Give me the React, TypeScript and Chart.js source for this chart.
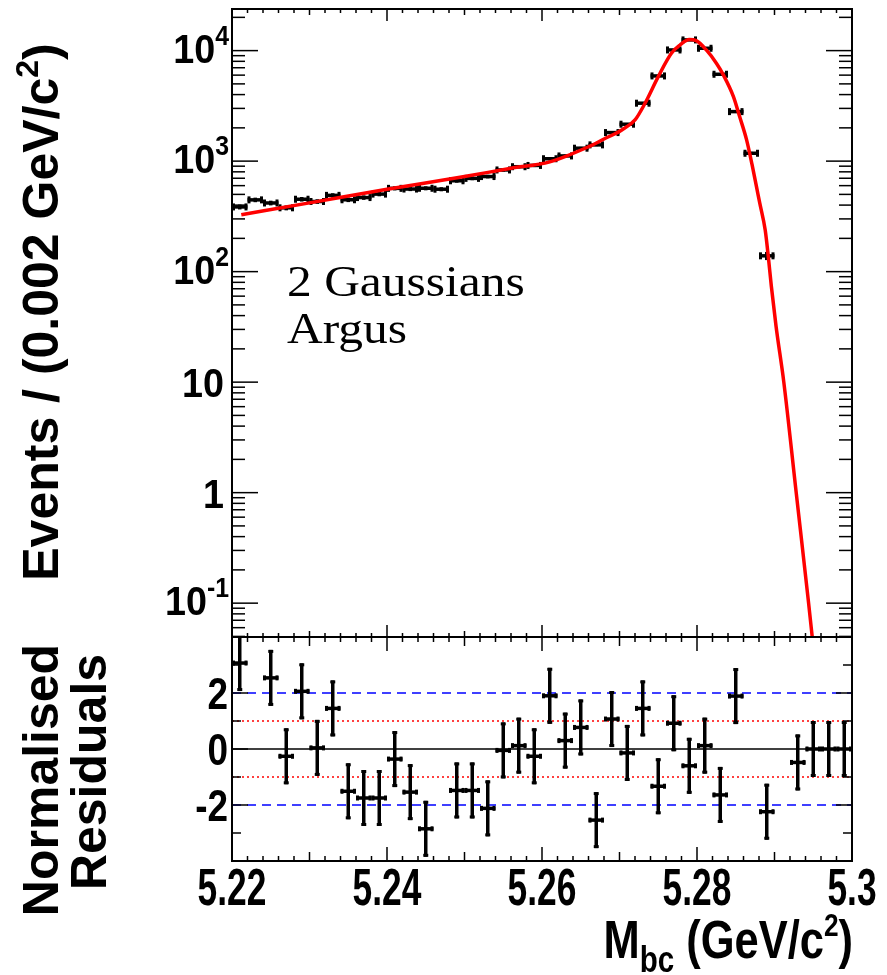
import React, { useEffect, useRef } from "react";
import { Chart, registerables } from "chart.js";

Chart.register(...registerables);

// ---------------- data ----------------
const binCenters = [
  5.221, 5.223, 5.225, 5.227, 5.229, 5.231, 5.233, 5.235, 5.237, 5.239,
  5.241, 5.243, 5.245, 5.247, 5.249, 5.251, 5.253, 5.255, 5.257, 5.259,
  5.261, 5.263, 5.265, 5.267, 5.269, 5.271, 5.273, 5.275, 5.277, 5.279,
  5.281, 5.283, 5.285, 5.287, 5.289, 5.291, 5.293, 5.295, 5.297, 5.299,
];
const binHalfWidth = 0.001;

const eventCounts: (number | null)[] = [
  385, 446, 418, 378, 452, 431, 490, 447, 468, 503,
  567, 559, 568, 557, 664, 698, 725, 832, 890, 914,
  1051, 1114, 1309, 1403, 1813, 2158, 3343, 5900, 10140, 12500,
  10500, 6110, 2805, 1178, 139, null, null, null, null, null,
];

const residuals: (number | null)[] = [
  3.07, null, 2.54, -0.26, 2.06, 0.04, 1.45, -1.51, -1.75, -1.75,
  -0.36, -1.54, -2.85, null, -1.48, -1.48, -2.12, -0.05, 0.12, -0.26,
  1.9, 0.3, 0.77, -2.54, 1.07, -0.14, 1.45, -1.33, 0.92, -0.6,
  0.12, -1.64, 1.89, null, -2.24, null, -0.48, 0, 0, 0,
];
const residualError = 1;

const fitMass = [
  5.2212, 5.23, 5.24, 5.25, 5.256, 5.261, 5.266, 5.268, 5.2703, 5.272,
  5.2733, 5.275, 5.2767, 5.2778, 5.279, 5.2799, 5.2812, 5.2825, 5.2834, 5.2847,
  5.2855, 5.2864, 5.2871, 5.2877, 5.2881, 5.2888, 5.2892, 5.2896, 5.2902, 5.2912,
  5.2928, 5.2944, 5.2952,
];
const fitEvents = [
  327, 419, 556, 725, 862, 985, 1349, 1585, 1914, 2360,
  3343, 5820, 9460, 11220, 12590, 12300, 10140, 7690, 6030, 3837,
  2530, 1556, 933, 575, 416, 238, 137, 73, 32, 10,
  1, 0.1, 0.03,
];

const logTickValues = [0.1, 1, 10, 100, 1000, 10000];
const logTickBase = ["10", "1", "10", "10", "10", "10"];
const logTickExp = ["-1", "", "", "2", "3", "4"];

const residTickValues = [-2, 0, 2];
const residTickLabels = ["-2", "0", "2"];

const massTickValues = [5.22, 5.24, 5.26, 5.28, 5.3];
const massTickLabels = ["5.22", "5.24", "5.26", "5.28", "5.3"];

const annotationLines = ["2 Gaussians", "Argus"];

// ---------------- helpers ----------------
type Seg = { t: string; size: number; dy?: number; weight?: string; family?: string };
const SANS = '"Liberation Sans", Arial, Helvetica, sans-serif';
const SERIF = '"Liberation Serif", "DejaVu Serif", serif';

function drawSegs(
  ctx: CanvasRenderingContext2D,
  segs: Seg[],
  x: number,
  y: number,
  align: "left" | "right" | "center",
  hscale = 1,
  rot = 0
) {
  ctx.save();
  ctx.translate(x, y);
  if (rot) ctx.rotate(rot);
  ctx.scale(hscale, 1);
  ctx.textBaseline = "alphabetic";
  ctx.textAlign = "left";
  ctx.fillStyle = "#000";
  const fontOf = (s: Seg) => `${s.weight ?? "bold"} ${s.size}px ${s.family ?? SANS}`;
  let total = 0;
  for (const s of segs) {
    ctx.font = fontOf(s);
    total += ctx.measureText(s.t).width;
  }
  let cx = align === "left" ? 0 : align === "right" ? -total : -total / 2;
  for (const s of segs) {
    ctx.font = fontOf(s);
    ctx.fillText(s.t, cx, s.dy ?? 0);
    cx += ctx.measureText(s.t).width;
  }
  ctx.restore();
}

function seg(ctx: CanvasRenderingContext2D, x1: number, y1: number, x2: number, y2: number) {
  ctx.beginPath();
  ctx.moveTo(x1, y1);
  ctx.lineTo(x2, y2);
  ctx.stroke();
}

function drawXTicks(chart: any, lens: [number, number, number]) {
  const { ctx, chartArea: a, scales } = chart;
  ctx.save();
  ctx.strokeStyle = "#000";
  ctx.lineWidth = 1.5;
  for (let i = 0; i <= 40; i++) {
    const v = 5.22 + i * 0.002;
    const px = scales.x.getPixelForValue(v);
    const len = i % 10 === 0 ? lens[0] : i % 5 === 0 ? lens[1] : lens[2];
    seg(ctx, px, a.top, px, a.top + len);
    seg(ctx, px, a.bottom, px, a.bottom - len);
  }
  ctx.restore();
}

function drawYTicks(chart: any, ticks: { v: number; len: number }[]) {
  const { ctx, chartArea: a, scales } = chart;
  ctx.save();
  ctx.strokeStyle = "#000";
  ctx.lineWidth = 1.5;
  for (const t of ticks) {
    const py = scales.y.getPixelForValue(t.v);
    if (py < a.top + 0.5 || py > a.bottom - 0.5) continue;
    seg(ctx, a.left, py, a.left + t.len, py);
    seg(ctx, a.right, py, a.right - t.len, py);
  }
  ctx.restore();
}

function drawFrame(chart: any) {
  const { ctx, chartArea: a } = chart;
  ctx.save();
  ctx.strokeStyle = "#000";
  ctx.lineWidth = 2;
  ctx.strokeRect(a.left, a.top, a.right - a.left, a.bottom - a.top);
  ctx.restore();
}

// ---------------- plugins ----------------
const topPlugin = {
  id: "topPanel",
  beforeDatasetsDraw(chart: any) {
    const { ctx, chartArea: a, scales } = chart;
    const xs = scales.x;
    const ys = scales.y;
    ctx.save();
    ctx.beginPath();
    ctx.rect(a.left, a.top, a.right - a.left, a.bottom - a.top);
    ctx.clip();
    ctx.strokeStyle = "#000";
    binCenters.forEach((x, i) => {
      const n = eventCounts[i];
      if (n == null || n <= 0) return;
      const err = Math.sqrt(n);
      const px = xs.getPixelForValue(x);
      const pl = xs.getPixelForValue(x - binHalfWidth);
      const pr = xs.getPixelForValue(x + binHalfWidth);
      const py = ys.getPixelForValue(n);
      const pt = ys.getPixelForValue(n + err);
      const pb = ys.getPixelForValue(Math.max(n - err, 1e-3));
      ctx.lineWidth = 3.5;
      seg(ctx, pl, py, pr, py);
      seg(ctx, px, pt, px, pb);
      ctx.lineWidth = 3;
      seg(ctx, pl + 1.5, py - 3.5, pl + 1.5, py + 3.5);
      seg(ctx, pr - 1.5, py - 3.5, pr - 1.5, py + 3.5);
    });
    ctx.restore();
  },
  afterDraw(chart: any) {
    const { ctx, scales } = chart;
    const ticks: { v: number; len: number }[] = [];
    for (let d = -2; d <= 4; d++) {
      for (let m = 1; m <= 9; m++) ticks.push({ v: m * Math.pow(10, d), len: m === 1 ? 26 : 13 });
    }
    drawYTicks(chart, ticks);
    drawXTicks(chart, [12, 6, 4]);
    drawFrame(chart);

    // y tick labels
    logTickValues.forEach((v, i) => {
      const py = scales.y.getPixelForValue(v);
      const exp = logTickExp[i];
      if (exp) {
        drawSegs(
          ctx,
          [
            { t: logTickBase[i], size: 41 },
            { t: exp, size: 27, dy: -18 },
          ],
          229,
          py + 12,
          "right",
          0.92
        );
      } else {
        drawSegs(ctx, [{ t: logTickBase[i], size: 41 }], 224, py + 15, "right", 0.92);
      }
    });

    // y title
    drawSegs(
      ctx,
      [
        { t: "Events / (0.002 GeV/c", size: 50 },
        { t: "2", size: 32, dy: -20 },
        { t: ")", size: 50 },
      ],
      58,
      312,
      "center",
      1,
      -Math.PI / 2
    );

    // annotation
    drawSegs(ctx, [{ t: annotationLines[0], size: 45, weight: "normal", family: SERIF }], 287, 296, "left", 1.1);
    drawSegs(ctx, [{ t: annotationLines[1], size: 45, weight: "normal", family: SERIF }], 287, 343, "left", 1.1);
  },
};

const bottomPlugin = {
  id: "bottomPanel",
  afterDatasetsDraw(chart: any) {
    const { ctx, chartArea: a, scales } = chart;
    const xs = scales.x;
    const ys = scales.y;
    ctx.save();
    ctx.beginPath();
    ctx.rect(a.left, a.top, a.right - a.left, a.bottom - a.top);
    ctx.clip();
    ctx.strokeStyle = "#000";
    binCenters.forEach((x, i) => {
      const r = residuals[i];
      if (r == null) return;
      const px = xs.getPixelForValue(x);
      const pl = xs.getPixelForValue(x - binHalfWidth);
      const pr = xs.getPixelForValue(x + binHalfWidth);
      const py = ys.getPixelForValue(r);
      const pt = ys.getPixelForValue(r + residualError);
      const pb = ys.getPixelForValue(r - residualError);
      ctx.lineWidth = 3.5;
      seg(ctx, pl, py, pr, py);
      seg(ctx, px, pt, px, pb);
      ctx.lineWidth = 3;
      seg(ctx, pl + 1.5, py - 2.5, pl + 1.5, py + 2.5);
      seg(ctx, pr - 1.5, py - 2.5, pr - 1.5, py + 2.5);
      seg(ctx, px - 2.5, pt + 1.5, px + 2.5, pt + 1.5);
      seg(ctx, px - 2.5, pb - 1.5, px + 2.5, pb - 1.5);
    });
    ctx.restore();
  },
  afterDraw(chart: any) {
    const { ctx, scales } = chart;
    const ticks: { v: number; len: number }[] = [];
    for (let v = -3; v <= 3; v++) ticks.push({ v, len: v % 2 === 0 ? 16 : 9 });
    drawYTicks(chart, ticks);
    drawXTicks(chart, [14, 9, 5]);
    drawFrame(chart);

    residTickValues.forEach((v, i) => {
      const py = scales.y.getPixelForValue(v);
      drawSegs(ctx, [{ t: residTickLabels[i], size: 45 }], 228, py + 16, "right", 0.82);
    });

    massTickValues.forEach((v, i) => {
      const px = scales.x.getPixelForValue(v);
      drawSegs(ctx, [{ t: massTickLabels[i], size: 52 }], px, 905, "center", 0.68);
    });

    drawSegs(
      ctx,
      [
        { t: "M", size: 53 },
        { t: "bc", size: 36, dy: 14 },
        { t: " (GeV/c", size: 53 },
        { t: "2", size: 32, dy: -22 },
        { t: ")", size: 53 },
      ],
      853,
      958,
      "right",
      0.82
    );

    drawSegs(ctx, [{ t: "Normalised", size: 50 }], 58, 780, "center", 1, -Math.PI / 2);
    drawSegs(ctx, [{ t: "Residuals", size: 50 }], 106, 772, "center", 1, -Math.PI / 2);
  },
};

// ---------------- component ----------------
export default function App() {
  const topRef = useRef<HTMLCanvasElement | null>(null);
  const botRef = useRef<HTMLCanvasElement | null>(null);

  useEffect(() => {
    if (!topRef.current || !botRef.current) return;

    const dataPoints = binCenters
      .map((x, i) => ({ x, y: eventCounts[i] }))
      .filter((p) => p.y != null && (p.y as number) > 0);

    const top = new Chart(topRef.current, {
      type: "line",
      data: {
        datasets: [
          {
            label: "fit",
            data: fitMass.map((x, i) => ({ x, y: fitEvents[i] })),
            borderColor: "#ff0000",
            borderWidth: 3.5,
            pointRadius: 0,
            cubicInterpolationMode: "monotone",
            fill: false,
          },
          {
            label: "data",
            data: dataPoints as any,
            showLine: false,
            pointRadius: 0,
            borderColor: "rgba(0,0,0,0)",
          },
        ],
      },
      options: {
        animation: false,
        responsive: false,
        devicePixelRatio: 1,
        events: [],
        layout: { padding: { left: 232, right: 35, top: 9, bottom: 338 } },
        scales: {
          x: { type: "linear", min: 5.22, max: 5.3, display: false },
          y: { type: "logarithmic", min: 0.0494, max: 23800, display: false },
        },
        plugins: { legend: { display: false }, tooltip: { enabled: false } },
      },
      plugins: [topPlugin],
    } as any);

    const refLine = (y: number, color: string, dash: number[], width: number) => ({
      data: [
        { x: 5.22, y },
        { x: 5.3, y },
      ],
      borderColor: color,
      borderDash: dash,
      borderWidth: width,
      pointRadius: 0,
      fill: false,
    });

    const bottom = new Chart(botRef.current, {
      type: "line",
      data: {
        datasets: [
          refLine(0, "#000000", [], 1.5),
          refLine(1, "#ff0000", [2, 3], 1.5),
          refLine(-1, "#ff0000", [2, 3], 1.5),
          refLine(2, "#0000ff", [9, 6], 1.5),
          refLine(-2, "#0000ff", [9, 6], 1.5),
          {
            label: "residuals",
            data: binCenters
              .map((x, i) => ({ x, y: residuals[i] }))
              .filter((p) => p.y != null) as any,
            showLine: false,
            pointRadius: 0,
            borderColor: "rgba(0,0,0,0)",
          },
        ],
      },
      options: {
        animation: false,
        responsive: false,
        devicePixelRatio: 1,
        events: [],
        layout: { padding: { left: 232, right: 35, top: 637, bottom: 114 } },
        scales: {
          x: { type: "linear", min: 5.22, max: 5.3, display: false },
          y: { type: "linear", min: -4, max: 4, display: false },
        },
        plugins: { legend: { display: false }, tooltip: { enabled: false } },
      },
      plugins: [bottomPlugin],
    } as any);

    return () => {
      top.destroy();
      bottom.destroy();
    };
  }, []);

  const canvasStyle: React.CSSProperties = {
    position: "absolute",
    left: 0,
    top: 0,
    width: 887,
    height: 975,
  };

  return (
    <div style={{ position: "absolute", left: 0, top: 0, width: 887, height: 975, background: "#fff" }}>
      <canvas ref={botRef} width={887} height={975} style={canvasStyle} />
      <canvas ref={topRef} width={887} height={975} style={canvasStyle} />
    </div>
  );
}
